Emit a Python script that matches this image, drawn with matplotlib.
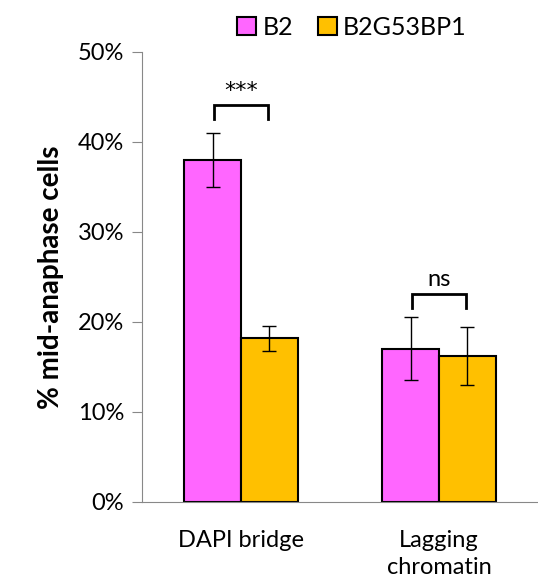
import numpy as np
import matplotlib.pyplot as plt
from matplotlib.ticker import PercentFormatter

categories = ["DAPI bridge", "Lagging\nchromatin"]
series = ["B2", "B2G53BP1"]
b2 = [38.0, 17.0]
b2_err = [3.0, 3.5]
g53 = [18.2, 16.2]
g53_err = [1.4, 3.2]
marks = ["***", "ns"]
mark_y = [42.6, 21.6]

plt.rcParams['font.family'] = ['Lato', 'DejaVu Sans']

fig = plt.figure(figsize=(5.38, 5.82), dpi=100)
ax = fig.add_axes([0.264, 0.1375, 0.736, 0.7732])

x = np.arange(len(categories))
w = 0.286
ax.bar(x - w/2, b2, w, color='#FF66FF', edgecolor='black', linewidth=1.5,
       yerr=b2_err, error_kw=dict(ecolor='black', elinewidth=1, capsize=5, capthick=1),
       label=series[0], zorder=2)
ax.bar(x + w/2, g53, w, color='#FFC000', edgecolor='black', linewidth=1.5,
       yerr=g53_err, error_kw=dict(ecolor='black', elinewidth=1, capsize=5, capthick=1),
       label=series[1], zorder=2)

# significance brackets
for i in range(len(categories)):
    y0 = mark_y[i]
    h = 1.5
    ax.plot([i - 0.135, i - 0.135, i + 0.135, i + 0.135], [y0, y0 + h, y0 + h, y0],
            color='black', lw=2, solid_joinstyle='miter')
    if marks[i] == "***":
        ax.text(i, y0 + h + 0.4, marks[i], ha='center', va='bottom', fontsize=16,
                family='DejaVu Sans')
    else:
        ax.text(i, y0 + h + 0.5, marks[i], ha='center', va='bottom', fontsize=17)

ax.set_xlim(-0.5, 1.5)
ax.set_ylim(0, 50)
ax.set_yticks(np.arange(0, 51, 10))
ax.yaxis.set_major_formatter(PercentFormatter(decimals=0))
ax.set_xticks(x)
ax.set_xticklabels(categories, fontsize=17, linespacing=1.35)
ax.tick_params(axis='x', length=0, pad=20)
ax.tick_params(axis='y', labelsize=17, length=7, color='#888888', pad=6)
for s in ['top', 'right']:
    ax.spines[s].set_visible(False)
for s in ['left', 'bottom']:
    ax.spines[s].set_color('#888888')
ax.set_ylabel('% mid-anaphase cells', fontsize=20, fontweight='bold', labelpad=10)

ax.legend(loc='upper center', bbox_to_anchor=(0.53, 1.13), ncol=2, frameon=False,
          fontsize=18, handlelength=0.75, handleheight=0.75, handletextpad=0.25,
          columnspacing=1.0)

fig.savefig('out.png', dpi=100)
